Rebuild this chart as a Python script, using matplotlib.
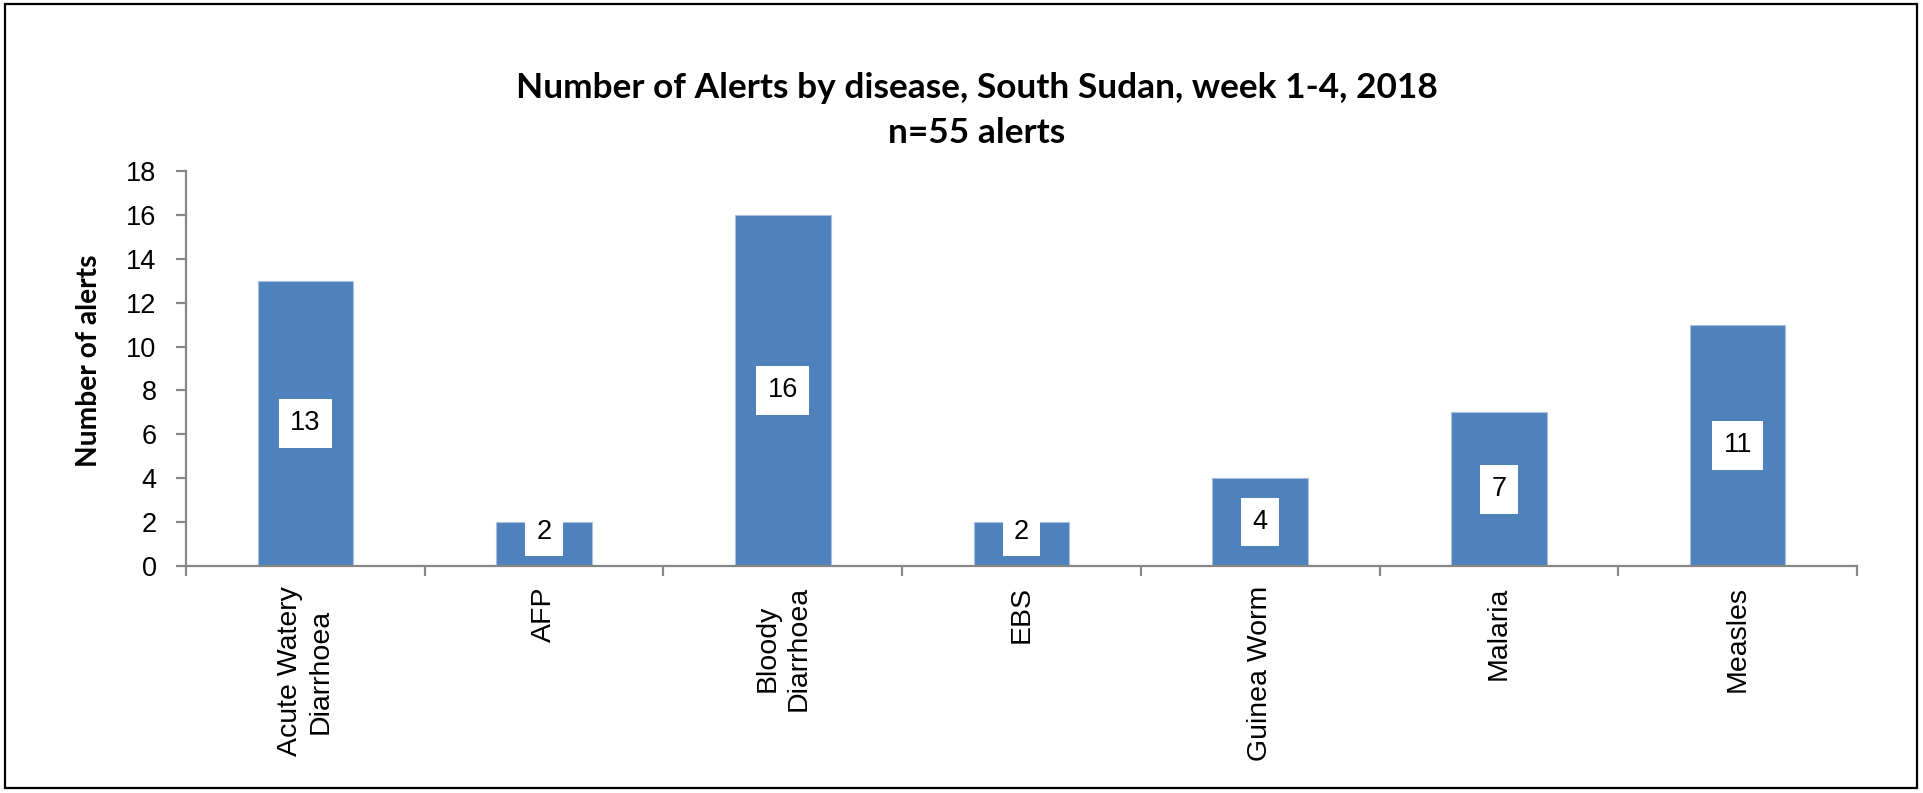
import matplotlib
matplotlib.use('Agg')
import matplotlib.pyplot as plt
from matplotlib.patches import Rectangle
from matplotlib import font_manager

# ---------------- data ----------------
categories = ["Acute Watery\nDiarrhoea", "AFP", "Bloody\nDiarrhoea", "EBS",
              "Guinea Worm", "Malaria", "Measles"]
alerts = [13, 2, 16, 2, 4, 7, 11]
yticks = [0, 2, 4, 6, 8, 10, 12, 14, 16, 18]
title_line1 = "Number of Alerts by disease, South Sudan, week 1-4, 2018"
title_line2 = "n=55 alerts"
ylabel_text = "Number of alerts"


def pick(fams):
    for f in fams:
        try:
            font_manager.findfont(font_manager.FontProperties(family=f),
                                  fallback_to_default=False)
            return f
        except Exception:
            pass
    return "DejaVu Sans"


BOLD_FONT = pick(["Lato", "Open Sans", "Liberation Sans"])
REG_FONT = pick(["Liberation Sans", "Arial", "DejaVu Sans"])

W, H = 1923, 793
fig = plt.figure(figsize=(W / 100, H / 100), dpi=100)
fig.patch.set_facecolor("white")

ax_left, ax_right, ax_top, ax_bottom = 186, 1857, 171, 566
ax = fig.add_axes([ax_left / W, 1 - ax_bottom / H,
                   (ax_right - ax_left) / W, (ax_bottom - ax_top) / H])

x = list(range(len(categories)))
bar_color = "#4F81BD"
ax.bar(x, alerts, width=0.4, color=bar_color, edgecolor="#A9C0DF",
       linewidth=0.8, zorder=2)

ax.set_xlim(-0.5, len(categories) - 0.5)
ax.set_ylim(0, 18)
ax.set_yticks(yticks)
ax.set_yticklabels([str(t) for t in yticks])

ax.set_xticks(x)
ax.set_xticklabels(categories, rotation=90, ha="center", va="top",
                   multialignment="center", fontsize=20.5, family=REG_FONT,
                   linespacing=1.25)
ax.set_xticks([i - 0.5 for i in range(len(categories) + 1)], minor=True)

spine_color = "#878787"
for s in ["top", "right"]:
    ax.spines[s].set_visible(False)
for s in ["left", "bottom"]:
    ax.spines[s].set_color(spine_color)
    ax.spines[s].set_linewidth(1.6)

ax.tick_params(axis="x", which="major", length=0, pad=14.5)
ax.tick_params(axis="x", which="minor", length=7.2, width=1.6,
               color=spine_color, direction="out")
ax.tick_params(axis="y", which="major", length=7.2, width=1.6,
               color=spine_color, direction="out", pad=14,
               labelsize=19.5)
for lab in ax.get_yticklabels():
    lab.set_family(REG_FONT)

# data labels (white boxes centred on the bars)
px_per_unit = (ax_bottom - ax_top) / 18.0
min_center = 34 / px_per_unit
for xi, v in zip(x, alerts):
    yc = max(v / 2.0, min_center)
    ax.text(xi, yc, str(v), ha="center", va="center", fontsize=19.5,
            family=REG_FONT, zorder=3,
            bbox=dict(boxstyle="square,pad=0.42", facecolor="white",
                      edgecolor="none"))

# title (two lines)
t1 = fig.text(977 / W, 1 - 98 / H, title_line1, ha="center", va="baseline",
              fontsize=24, fontweight="bold", family=BOLD_FONT)
fig.canvas.draw()
r = fig.canvas.get_renderer()
w = t1.get_window_extent(r).width
fs = 24 * 920 / w
t1.set_fontsize(fs)
t2 = fig.text(977 / W, 1 - 143 / H, title_line2, ha="center", va="baseline",
              fontsize=fs, fontweight="bold", family=BOLD_FONT)

# y label
yl = fig.text(89 / W, 1 - 361 / H, ylabel_text, rotation=90, ha="center",
              va="center", fontsize=20, fontweight="bold", family=BOLD_FONT)
fig.canvas.draw()
hh = yl.get_window_extent(fig.canvas.get_renderer()).height
yl.set_fontsize(20 * 212 / hh)

# outer border
fig.patches.append(Rectangle((5 / W, 1 - 788 / H), 1912 / W, 784 / H,
                             transform=fig.transFigure, fill=False,
                             edgecolor="black", linewidth=1.6))

fig.savefig("out.png", dpi=100, facecolor="white")
